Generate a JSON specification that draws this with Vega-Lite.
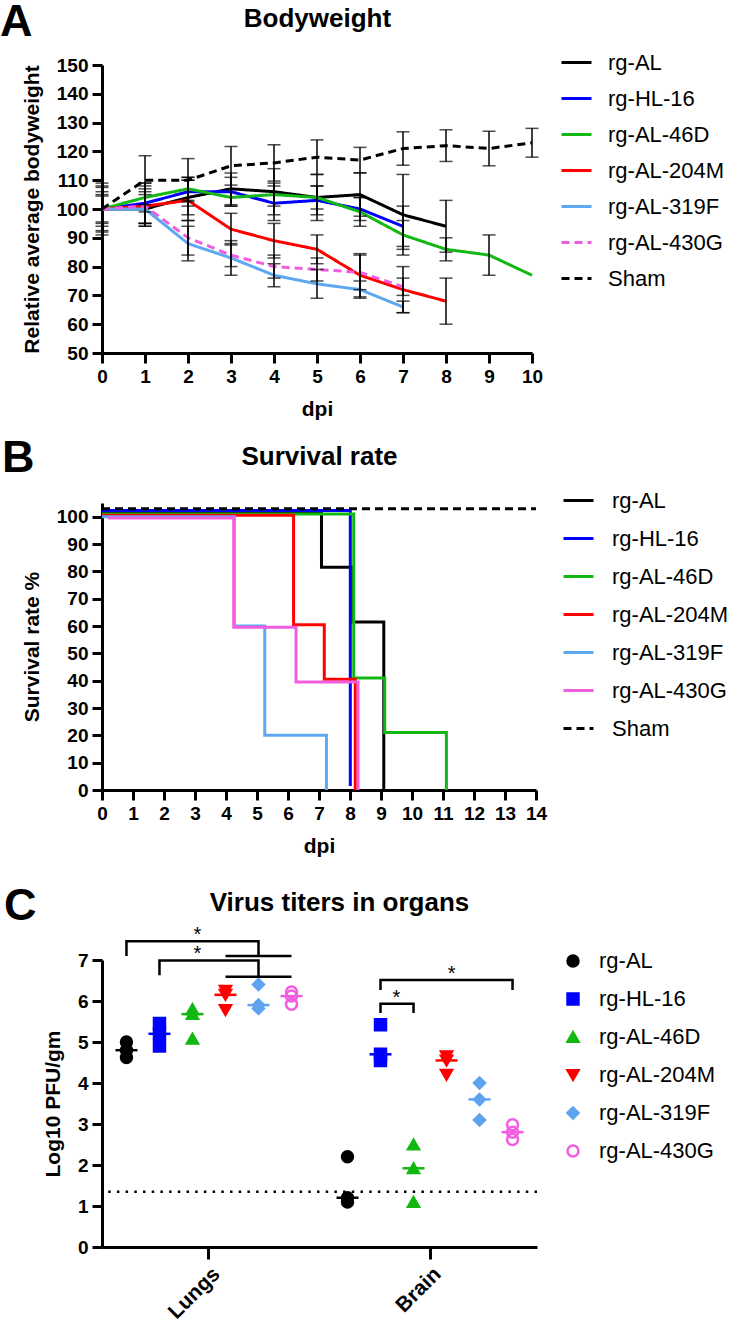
{
  "$schema": "https://vega.github.io/schema/vega-lite/v6.json",
  "background": "white",
  "padding": 0,
  "autosize": {"type": "pad"},
  "bounds": "flush",
  "spacing": 150,
  "resolve": {"scale": {"color": "independent", "strokeDash": "independent", "fill": "independent", "stroke": "independent", "shape": "independent", "x": "independent", "y": "independent", "xOffset": "independent"}, "legend": {"color": "independent", "strokeDash": "independent", "fill": "independent", "stroke": "independent", "shape": "independent"}},
  "config": {
    "font": "Liberation Sans",
    "view": {"stroke": null},
    "axis": {"domainColor": "black", "domainWidth": 3, "tickColor": "black", "tickWidth": 3, "tickSize": 10, "labelFont": "Liberation Sans", "labelFontWeight": "bold", "labelFontSize": 19, "labelColor": "black", "labelPadding": 4, "labelOverlap": false, "labelFlush": false, "titleFont": "Liberation Sans", "titleFontWeight": "bold", "titleFontSize": 21, "titleColor": "black", "grid": false},
    "legend": {"labelFont": "Liberation Sans", "labelFontSize": 22, "labelColor": "black", "padding": 0},
    "title": {"font": "Liberation Sans", "fontWeight": "bold", "fontSize": 45, "color": "black", "anchor": "start", "frame": "group"}
  },
  "datasets": {
    "bw": [
      {"group": "rg-AL", "day": 0, "mean": 100, "sd": 9}, {"group": "rg-AL", "day": 1, "mean": 100, "sd": 6}, {"group": "rg-AL", "day": 2, "mean": 104, "sd": 6}, {"group": "rg-AL", "day": 3, "mean": 107, "sd": 5.5}, {"group": "rg-AL", "day": 4, "mean": 106, "sd": 8}, {"group": "rg-AL", "day": 5, "mean": 104, "sd": 8}, {"group": "rg-AL", "day": 6, "mean": 105, "sd": 7.5}, {"group": "rg-AL", "day": 7, "mean": 98, "sd": 14}, {"group": "rg-AL", "day": 8, "mean": 94, "sd": 9},
      {"group": "rg-HL-16", "day": 0, "mean": 100, "sd": 7.5}, {"group": "rg-HL-16", "day": 1, "mean": 102, "sd": 7}, {"group": "rg-HL-16", "day": 2, "mean": 106, "sd": 5}, {"group": "rg-HL-16", "day": 3, "mean": 106, "sd": 5}, {"group": "rg-HL-16", "day": 4, "mean": 102, "sd": 6}, {"group": "rg-HL-16", "day": 5, "mean": 103, "sd": 5}, {"group": "rg-HL-16", "day": 6, "mean": 100, "sd": 4}, {"group": "rg-HL-16", "day": 7, "mean": 94, "sd": 7},
      {"group": "rg-AL-46D", "day": 0, "mean": 100, "sd": 6}, {"group": "rg-AL-46D", "day": 1, "mean": 104, "sd": 5}, {"group": "rg-AL-46D", "day": 2, "mean": 107, "sd": 4}, {"group": "rg-AL-46D", "day": 3, "mean": 104, "sd": 3}, {"group": "rg-AL-46D", "day": 4, "mean": 105, "sd": 4}, {"group": "rg-AL-46D", "day": 5, "mean": 104, "sd": 4}, {"group": "rg-AL-46D", "day": 6, "mean": 99, "sd": 5}, {"group": "rg-AL-46D", "day": 7, "mean": 91, "sd": 5}, {"group": "rg-AL-46D", "day": 8, "mean": 86, "sd": 4}, {"group": "rg-AL-46D", "day": 9, "mean": 84, "sd": 7}, {"group": "rg-AL-46D", "day": 10, "mean": 77, "sd": 0},
      {"group": "rg-AL-204M", "day": 0, "mean": 100, "sd": 5}, {"group": "rg-AL-204M", "day": 1, "mean": 101, "sd": 6}, {"group": "rg-AL-204M", "day": 2, "mean": 103, "sd": 7}, {"group": "rg-AL-204M", "day": 3, "mean": 93, "sd": 5.5}, {"group": "rg-AL-204M", "day": 4, "mean": 89, "sd": 6}, {"group": "rg-AL-204M", "day": 5, "mean": 86, "sd": 5}, {"group": "rg-AL-204M", "day": 6, "mean": 77, "sd": 7.5}, {"group": "rg-AL-204M", "day": 7, "mean": 72, "sd": 8}, {"group": "rg-AL-204M", "day": 8, "mean": 68, "sd": 8},
      {"group": "rg-AL-319F", "day": 0, "mean": 100, "sd": 8}, {"group": "rg-AL-319F", "day": 1, "mean": 100, "sd": 5}, {"group": "rg-AL-319F", "day": 2, "mean": 88, "sd": 6}, {"group": "rg-AL-319F", "day": 3, "mean": 83, "sd": 6}, {"group": "rg-AL-319F", "day": 4, "mean": 77, "sd": 4}, {"group": "rg-AL-319F", "day": 5, "mean": 74, "sd": 5}, {"group": "rg-AL-319F", "day": 6, "mean": 72, "sd": 3}, {"group": "rg-AL-319F", "day": 7, "mean": 66, "sd": 2},
      {"group": "rg-AL-430G", "day": 0, "mean": 100, "sd": 4.5}, {"group": "rg-AL-430G", "day": 1, "mean": 101, "sd": 7}, {"group": "rg-AL-430G", "day": 2, "mean": 90, "sd": 6}, {"group": "rg-AL-430G", "day": 3, "mean": 84, "sd": 4}, {"group": "rg-AL-430G", "day": 4, "mean": 80, "sd": 4}, {"group": "rg-AL-430G", "day": 5, "mean": 79, "sd": 4}, {"group": "rg-AL-430G", "day": 6, "mean": 78, "sd": 6}, {"group": "rg-AL-430G", "day": 7, "mean": 73, "sd": 3},
      {"group": "Sham", "day": 0, "mean": 100, "sd": 0}, {"group": "Sham", "day": 1, "mean": 110, "sd": 8.5}, {"group": "Sham", "day": 2, "mean": 110, "sd": 7.5}, {"group": "Sham", "day": 3, "mean": 115, "sd": 6.7}, {"group": "Sham", "day": 4, "mean": 116, "sd": 6.3}, {"group": "Sham", "day": 5, "mean": 118, "sd": 6}, {"group": "Sham", "day": 6, "mean": 117, "sd": 4.4}, {"group": "Sham", "day": 7, "mean": 121, "sd": 5.8}, {"group": "Sham", "day": 8, "mean": 122, "sd": 5.5}, {"group": "Sham", "day": 9, "mean": 121, "sd": 6}, {"group": "Sham", "day": 10, "mean": 123, "sd": 5}
    ],
    "surv": [
      {"group": "rg-AL", "day": 0, "pct": 101.5}, {"group": "rg-AL", "day": 7.08, "pct": 81.5}, {"group": "rg-AL", "day": 8.09, "pct": 61.5}, {"group": "rg-AL", "day": 9.09, "pct": 0},
      {"group": "rg-HL-16", "day": 0, "pct": 102.3}, {"group": "rg-HL-16", "day": 8.01, "pct": 1.5},
      {"group": "rg-AL-46D", "day": 0, "pct": 101}, {"group": "rg-AL-46D", "day": 8.12, "pct": 41}, {"group": "rg-AL-46D", "day": 9.12, "pct": 21}, {"group": "rg-AL-46D", "day": 11.11, "pct": 0},
      {"group": "rg-AL-204M", "day": 0, "pct": 100.5}, {"group": "rg-AL-204M", "day": 6.18, "pct": 60.5}, {"group": "rg-AL-204M", "day": 7.17, "pct": 40.5}, {"group": "rg-AL-204M", "day": 8.17, "pct": 0},
      {"group": "rg-AL-319F", "day": 0, "pct": 100}, {"group": "rg-AL-319F", "day": 4.27, "pct": 60}, {"group": "rg-AL-319F", "day": 5.25, "pct": 20}, {"group": "rg-AL-319F", "day": 7.24, "pct": 0},
      {"group": "rg-AL-430G", "day": 0.2, "pct": 99.5}, {"group": "rg-AL-430G", "day": 4.25, "pct": 59.5}, {"group": "rg-AL-430G", "day": 6.26, "pct": 39.5}, {"group": "rg-AL-430G", "day": 8.26, "pct": 0},
      {"group": "Sham", "day": 0, "pct": 102.9}, {"group": "Sham", "day": 14, "pct": 102.9}
    ],
    "titers": [
      {"organ": "Lungs", "group": "rg-AL", "value": 5.0}, {"organ": "Lungs", "group": "rg-AL", "value": 4.8}, {"organ": "Lungs", "group": "rg-AL", "value": 4.62},
      {"organ": "Lungs", "group": "rg-HL-16", "value": 5.45}, {"organ": "Lungs", "group": "rg-HL-16", "value": 5.2}, {"organ": "Lungs", "group": "rg-HL-16", "value": 4.9},
      {"organ": "Lungs", "group": "rg-AL-46D", "value": 5.8}, {"organ": "Lungs", "group": "rg-AL-46D", "value": 5.68}, {"organ": "Lungs", "group": "rg-AL-46D", "value": 5.08},
      {"organ": "Lungs", "group": "rg-AL-204M", "value": 6.25}, {"organ": "Lungs", "group": "rg-AL-204M", "value": 6.15}, {"organ": "Lungs", "group": "rg-AL-204M", "value": 5.78},
      {"organ": "Lungs", "group": "rg-AL-319F", "value": 6.4}, {"organ": "Lungs", "group": "rg-AL-319F", "value": 5.9}, {"organ": "Lungs", "group": "rg-AL-319F", "value": 5.82},
      {"organ": "Lungs", "group": "rg-AL-430G", "value": 6.22}, {"organ": "Lungs", "group": "rg-AL-430G", "value": 6.12}, {"organ": "Lungs", "group": "rg-AL-430G", "value": 5.92},
      {"organ": "Brain", "group": "rg-AL", "value": 2.2}, {"organ": "Brain", "group": "rg-AL", "value": 1.2}, {"organ": "Brain", "group": "rg-AL", "value": 1.1},
      {"organ": "Brain", "group": "rg-HL-16", "value": 5.42}, {"organ": "Brain", "group": "rg-HL-16", "value": 4.7}, {"organ": "Brain", "group": "rg-HL-16", "value": 4.55},
      {"organ": "Brain", "group": "rg-AL-46D", "value": 2.5}, {"organ": "Brain", "group": "rg-AL-46D", "value": 1.92}, {"organ": "Brain", "group": "rg-AL-46D", "value": 1.1},
      {"organ": "Brain", "group": "rg-AL-204M", "value": 4.65}, {"organ": "Brain", "group": "rg-AL-204M", "value": 4.55}, {"organ": "Brain", "group": "rg-AL-204M", "value": 4.2},
      {"organ": "Brain", "group": "rg-AL-319F", "value": 4.0}, {"organ": "Brain", "group": "rg-AL-319F", "value": 3.6}, {"organ": "Brain", "group": "rg-AL-319F", "value": 3.1},
      {"organ": "Brain", "group": "rg-AL-430G", "value": 2.98}, {"organ": "Brain", "group": "rg-AL-430G", "value": 2.8}, {"organ": "Brain", "group": "rg-AL-430G", "value": 2.62}
    ],
    "brackets": [
      {"bracket": "b1", "seq": 1, "organ": "Lungs", "group": "rg-AL", "value": 7.1}, {"bracket": "b1", "seq": 2, "organ": "Lungs", "group": "rg-AL", "value": 7.46}, {"bracket": "b1", "seq": 3, "organ": "Lungs", "group": "rg-AL-319F", "value": 7.46}, {"bracket": "b1", "seq": 4, "organ": "Lungs", "group": "rg-AL-319F", "value": 7.1},
      {"bracket": "b1bar", "seq": 1, "organ": "Lungs", "group": "rg-AL-204M", "value": 7.1}, {"bracket": "b1bar", "seq": 2, "organ": "Lungs", "group": "rg-AL-430G", "value": 7.1},
      {"bracket": "b2", "seq": 1, "organ": "Lungs", "group": "rg-HL-16", "value": 6.63}, {"bracket": "b2", "seq": 2, "organ": "Lungs", "group": "rg-HL-16", "value": 6.99}, {"bracket": "b2", "seq": 3, "organ": "Lungs", "group": "rg-AL-319F", "value": 6.99}, {"bracket": "b2", "seq": 4, "organ": "Lungs", "group": "rg-AL-319F", "value": 6.59},
      {"bracket": "b2bar", "seq": 1, "organ": "Lungs", "group": "rg-AL-204M", "value": 6.59}, {"bracket": "b2bar", "seq": 2, "organ": "Lungs", "group": "rg-AL-430G", "value": 6.59},
      {"bracket": "b3", "seq": 1, "organ": "Brain", "group": "rg-HL-16", "value": 5.71}, {"bracket": "b3", "seq": 2, "organ": "Brain", "group": "rg-HL-16", "value": 5.93}, {"bracket": "b3", "seq": 3, "organ": "Brain", "group": "rg-AL-46D", "value": 5.93}, {"bracket": "b3", "seq": 4, "organ": "Brain", "group": "rg-AL-46D", "value": 5.71},
      {"bracket": "b4", "seq": 1, "organ": "Brain", "group": "rg-HL-16", "value": 6.27}, {"bracket": "b4", "seq": 2, "organ": "Brain", "group": "rg-HL-16", "value": 6.51}, {"bracket": "b4", "seq": 3, "organ": "Brain", "group": "rg-AL-430G", "value": 6.51}, {"bracket": "b4", "seq": 4, "organ": "Brain", "group": "rg-AL-430G", "value": 6.27}
    ],
    "starsA": [
      {"organ": "Lungs", "group": "rg-AL-46D", "value": 7.46, "label": "*"}, {"organ": "Lungs", "group": "rg-AL-46D", "value": 6.99, "label": "*"}, {"organ": "Brain", "group": "rg-AL-204M", "value": 6.51, "label": "*"}
    ],
    "starsB": [
      {"organ": "Brain", "group": "rg-HL-16", "value": 5.93, "label": "*"}
    ]
  },
  "vconcat": [
    {
      "width": 430,
      "height": 288,
      "title": {"text": "A", "dx": -102, "dy": 44},
      "data": {"name": "bw"},
      "resolve": {"axis": {"x": "independent"}},
      "layer": [
        {
          "mark": {"type": "rule", "opacity": 0},
          "encoding": {
            "x": {"datum": 0, "type": "quantitative", "scale": {"domain": [0, 10], "nice": false}, "axis": {"orient": "top", "domain": false, "ticks": false, "labels": false, "title": "Bodyweight", "titleFontSize": 26, "titlePadding": 34}}
          }
        },
        {
          "mark": {"type": "line", "strokeWidth": 3},
          "encoding": {
            "x": {"field": "day", "type": "quantitative", "scale": {"domain": [0, 10], "nice": false}, "axis": {"orient": "bottom", "values": [0, 1, 2, 3, 4, 5, 6, 7, 8, 9, 10], "title": "dpi", "titlePadding": 12}},
            "y": {"field": "mean", "type": "quantitative", "scale": {"domain": [50, 150], "nice": false, "zero": false}, "axis": {"values": [50, 60, 70, 80, 90, 100, 110, 120, 130, 140, 150], "title": "Relative average bodyweight", "titlePadding": 14}},
            "color": {"field": "group", "type": "nominal", "scale": {"domain": ["rg-AL", "rg-HL-16", "rg-AL-46D", "rg-AL-204M", "rg-AL-319F", "rg-AL-430G", "Sham"], "range": ["#000000", "#0000ff", "#14b814", "#ff0000", "#5ea8f2", "#f25ce0", "#000000"]}, "legend": {"title": null, "orient": "none", "legendX": 458, "legendY": -19, "symbolType": "stroke", "symbolSize": 900, "symbolStrokeWidth": 3, "labelOffset": 15, "rowPadding": 8}},
            "strokeDash": {"field": "group", "type": "nominal", "scale": {"domain": ["rg-AL", "rg-HL-16", "rg-AL-46D", "rg-AL-204M", "rg-AL-319F", "rg-AL-430G", "Sham"], "range": [[1, 0], [1, 0], [1, 0], [1, 0], [1, 0], [8, 5], [8, 5]]}, "legend": {"title": null, "orient": "none", "legendX": 458, "legendY": -19, "symbolType": "stroke", "symbolSize": 900, "symbolStrokeWidth": 3, "labelOffset": 15, "rowPadding": 8}}
          }
        },
        {
          "transform": [{"filter": "datum.sd > 0"}],
          "mark": {"type": "errorbar", "color": "black", "thickness": 1.5, "ticks": {"size": 13}},
          "encoding": {
            "x": {"field": "day", "type": "quantitative", "axis": null},
            "y": {"field": "mean", "type": "quantitative", "scale": {"domain": [50, 150], "nice": false, "zero": false}, "axis": {"values": [50, 60, 70, 80, 90, 100, 110, 120, 130, 140, 150], "title": "Relative average bodyweight", "titlePadding": 14}},
            "yError": {"field": "sd"}
          }
        }
      ]
    },
    {
      "bounds": "flush",
      "spacing": 170,
      "resolve": {"scale": {"color": "independent", "strokeDash": "independent", "fill": "independent", "stroke": "independent", "shape": "independent", "x": "independent", "y": "independent", "xOffset": "independent"}, "legend": {"color": "independent", "strokeDash": "independent", "fill": "independent", "stroke": "independent", "shape": "independent"}},
      "vconcat": [
        {
          "width": 434,
          "height": 287,
          "title": {"text": "B", "dx": -100, "dy": 42},
          "data": {"name": "surv"},
          "resolve": {"axis": {"x": "independent"}},
          "layer": [
            {
              "mark": {"type": "rule", "opacity": 0},
              "encoding": {
                "x": {"datum": 0, "type": "quantitative", "scale": {"domain": [0, 14], "nice": false}, "axis": {"orient": "top", "domain": false, "ticks": false, "labels": false, "title": "Survival rate", "titleFontSize": 26, "titlePadding": 34}}
              }
            },
            {
              "mark": {"type": "line", "interpolate": "step-after", "strokeWidth": 3},
              "encoding": {
                "x": {"field": "day", "type": "quantitative", "scale": {"domain": [0, 14], "nice": false}, "axis": {"orient": "bottom", "values": [0, 1, 2, 3, 4, 5, 6, 7, 8, 9, 10, 11, 12, 13, 14], "title": "dpi", "titlePadding": 12}},
                "y": {"field": "pct", "type": "quantitative", "scale": {"domain": [0, 105], "nice": false}, "axis": {"values": [0, 10, 20, 30, 40, 50, 60, 70, 80, 90, 100], "title": "Survival rate %", "titlePadding": 14}},
                "color": {"field": "group", "type": "nominal", "scale": {"domain": ["rg-AL", "rg-HL-16", "rg-AL-46D", "rg-AL-204M", "rg-AL-319F", "rg-AL-430G", "Sham"], "range": ["#000000", "#0000ff", "#14b814", "#ff0000", "#5ea8f2", "#f25ce0", "#000000"]}, "legend": {"title": null, "orient": "none", "legendX": 460, "legendY": -19, "symbolType": "stroke", "symbolSize": 900, "symbolStrokeWidth": 3, "labelOffset": 17, "rowPadding": 10}},
                "strokeDash": {"field": "group", "type": "nominal", "scale": {"domain": ["rg-AL", "rg-HL-16", "rg-AL-46D", "rg-AL-204M", "rg-AL-319F", "rg-AL-430G", "Sham"], "range": [[1, 0], [1, 0], [1, 0], [1, 0], [1, 0], [1, 0], [8, 5]]}, "legend": {"title": null, "orient": "none", "legendX": 460, "legendY": -19, "symbolType": "stroke", "symbolSize": 900, "symbolStrokeWidth": 3, "labelOffset": 17, "rowPadding": 10}}
              }
            }
          ]
        },
        {
          "width": 435,
          "height": 287,
          "title": {"text": "C", "dx": -98, "dy": 44},
          "resolve": {"axis": {"x": "independent"}},
          "layer": [
            {
              "data": {"name": "titers"},
              "mark": {"type": "rule", "opacity": 0},
              "encoding": {
                "x": {"datum": "Lungs", "type": "nominal", "scale": {"domain": ["Lungs", "Brain"], "paddingInner": 0.104, "paddingOuter": 0.036}, "axis": {"orient": "top", "domain": false, "ticks": false, "labels": false, "title": "Virus titers in organs", "titleFontSize": 26, "titlePadding": 45, "titleX": 237}}
              }
            },
            {
              "data": {"values": [{"lod": 1.35}]},
              "mark": {"type": "rule", "color": "black", "strokeWidth": 2.5, "strokeDash": [2.5, 6.2]},
              "encoding": {
                "y": {"field": "lod", "type": "quantitative", "scale": {"domain": [0, 7], "nice": false}, "axis": {"title": "Log10 PFU/gm"}}
              }
            },
            {
              "data": {"name": "titers"},
              "mark": {"type": "tick", "thickness": 2.5, "size": 22},
              "encoding": {
                "x": {"field": "organ", "type": "nominal", "axis": null},
                "xOffset": {"field": "group", "type": "nominal"},
                "y": {"aggregate": "median", "field": "value", "type": "quantitative", "axis": {"title": "Log10 PFU/gm"}},
                "color": {"field": "group", "type": "nominal", "scale": {"domain": ["rg-AL-430G", "rg-AL-319F", "rg-AL-204M", "rg-AL-46D", "rg-HL-16", "rg-AL"], "range": ["#f25ce0", "#5ea3f0", "#ff0000", "#12b812", "#0000ff", "#000000"]}, "legend": null}
              }
            },
            {
              "data": {"name": "titers"},
              "mark": {"type": "point", "filled": true, "size": 120, "strokeWidth": 2.5, "opacity": 1},
              "encoding": {
                "x": {"field": "organ", "type": "nominal", "scale": {"domain": ["Lungs", "Brain"], "paddingInner": 0.104, "paddingOuter": 0.036}, "axis": {"orient": "bottom", "bandPosition": 0.5, "labelAngle": -45, "labelFontSize": 21, "title": null, "tickSize": 12}},
                "xOffset": {"field": "group", "type": "nominal", "scale": {"domain": ["rg-AL", "rg-HL-16", "rg-AL-46D", "rg-AL-204M", "rg-AL-319F", "rg-AL-430G"], "paddingInner": 0, "paddingOuter": 0}},
                "y": {"field": "value", "type": "quantitative", "scale": {"domain": [0, 7], "nice": false}, "axis": {"values": [0, 1, 2, 3, 4, 5, 6, 7], "title": "Log10 PFU/gm", "titlePadding": 14}},
                "fill": {"field": "group", "type": "nominal", "scale": {"domain": ["rg-AL", "rg-HL-16", "rg-AL-46D", "rg-AL-204M", "rg-AL-319F", "rg-AL-430G"], "range": ["#000000", "#0000ff", "#12b812", "#ff0000", "#5ea3f0", "transparent"]}, "legend": {"title": null, "orient": "none", "legendX": 460, "legendY": -10, "symbolSize": 120, "symbolStrokeWidth": 2.5, "labelOffset": 15, "rowPadding": 16}},
                "stroke": {"field": "group", "type": "nominal", "scale": {"domain": ["rg-AL", "rg-HL-16", "rg-AL-46D", "rg-AL-204M", "rg-AL-319F", "rg-AL-430G"], "range": ["#000000", "#0000ff", "#12b812", "#ff0000", "#5ea3f0", "#f25ce0"]}, "legend": {"title": null, "orient": "none", "legendX": 460, "legendY": -10, "symbolSize": 120, "symbolStrokeWidth": 2.5, "labelOffset": 15, "rowPadding": 16}},
                "shape": {"field": "group", "type": "nominal", "scale": {"domain": ["rg-AL", "rg-HL-16", "rg-AL-46D", "rg-AL-204M", "rg-AL-319F", "rg-AL-430G"], "range": ["circle", "square", "triangle-up", "triangle-down", "diamond", "circle"]}, "legend": {"title": null, "orient": "none", "legendX": 460, "legendY": -10, "symbolSize": 120, "symbolStrokeWidth": 2.5, "labelOffset": 15, "rowPadding": 16}}
              }
            },
            {
              "data": {"name": "brackets"},
              "mark": {"type": "line", "color": "black", "strokeWidth": 2.5},
              "encoding": {
                "x": {"field": "organ", "type": "nominal", "axis": null},
                "xOffset": {"field": "group", "type": "nominal"},
                "y": {"field": "value", "type": "quantitative", "scale": {"domain": [0, 7], "nice": false}, "axis": {"title": "Log10 PFU/gm"}},
                "detail": {"field": "bracket", "type": "nominal"},
                "order": {"field": "seq", "type": "quantitative"}
              }
            },
            {
              "data": {"name": "starsA"},
              "mark": {"type": "text", "fontSize": 20, "dx": 5, "baseline": "alphabetic", "color": "black"},
              "encoding": {
                "x": {"field": "organ", "type": "nominal", "axis": null},
                "xOffset": {"field": "group", "type": "nominal"},
                "y": {"field": "value", "type": "quantitative", "axis": {"title": "Log10 PFU/gm"}},
                "text": {"field": "label"}
              }
            },
            {
              "data": {"name": "starsB"},
              "mark": {"type": "text", "fontSize": 20, "dx": 16, "baseline": "alphabetic", "color": "black"},
              "encoding": {
                "x": {"field": "organ", "type": "nominal", "axis": null},
                "xOffset": {"field": "group", "type": "nominal"},
                "y": {"field": "value", "type": "quantitative", "axis": {"title": "Log10 PFU/gm"}},
                "text": {"field": "label"}
              }
            }
          ]
        }
      ]
    }
  ]
}
